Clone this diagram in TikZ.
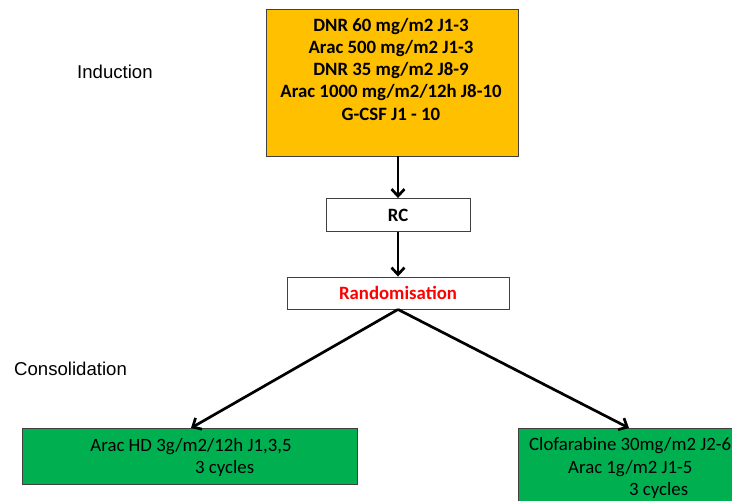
\documentclass[tikz,border=0pt]{standalone}
\usepackage{fontspec}
\setmainfont{Carlito}
\newfontfamily\arialf{Liberation Sans}
\usetikzlibrary{arrows.meta}
\definecolor{orangebox}{HTML}{FFC000}
\definecolor{greenbox}{HTML}{00B050}
\definecolor{redtext}{HTML}{FF0000}
\begin{document}
\begin{tikzpicture}[x=1pt,y=-1pt,
  boxline/.style={draw=black!75, line width=0.9pt},
  flowarrow/.style={line width=2.7pt, -{Straight Barb[length=7pt,width=13pt,line width=2.7pt]}},
  txt/.style={inner sep=0pt, font=\fontsize{18.8}{22}\selectfont},
  btxt/.style={inner sep=0pt, font=\fontsize{18.8}{22}\selectfont\bfseries},
  lbl/.style={inner sep=0pt, font=\arialf\fontsize{18.6}{20}\selectfont, anchor=base west}
]
\useasboundingbox (0,0) rectangle (732,501);
\fill[white] (0,0) rectangle (732,501);

% top induction box
\node[boxline, fill=orangebox, minimum width=252pt, minimum height=147pt, inner sep=0pt] (ind) at (392,82.5) {};
\node[btxt, anchor=base] (l1) at (391,31) {DNR 60 mg/m2 J1-3};
\node[btxt, anchor=base] (l2) at (391,53.3) {Arac 500 mg/m2 J1-3};
\node[btxt, anchor=base] (l3) at (391,75.6) {DNR 35 mg/m2 J8-9};
\node[btxt, anchor=base] (l4) at (391,97.9) {Arac 1000 mg/m2/12h J8-10};
\node[btxt, anchor=base] (l5) at (391,120.2) {G-CSF J1 - 10};

% RC
\node[boxline, fill=white, minimum width=144pt, minimum height=33pt, inner sep=0pt] (rc) at (398,215) {};
\node[btxt, anchor=base] (rct) at (398,221.5) {RC};

% Randomisation
\node[boxline, fill=white, minimum width=222pt, minimum height=32pt, inner sep=0pt] (rand) at (398,293) {};
\node[btxt, anchor=base, text=redtext] (randt) at (398,299.5) {Randomisation};

% left green box
\node[boxline, fill=greenbox, minimum width=335pt, minimum height=56pt, inner sep=0pt] (left) at (189.5,456) {};
\node[txt, anchor=base] (a1) at (191,451) {Arac HD 3g/m2/12h J1,3,5};
\node[txt, anchor=base west] (a2) at (195,473) {3 cycles};

% right green box
\node[boxline, fill=greenbox, minimum width=222pt, minimum height=80pt, inner sep=0pt, anchor=north west] (right) at (518,428) {};
\node[txt, anchor=base west] (b1) at (529,450) {Clofarabine 30mg/m2 J2-6};
\node[txt, anchor=base west] (b2) at (568,473) {Arac 1g/m2 J1-5};
\node[txt, anchor=base west] (b3) at (629,495.5) {3 cycles};

% labels
\node[lbl] (induction) at (77,78) {Induction};
\node[lbl] (consol) at (14,375) {Consolidation};

% arrows
\coordinate (lend) at (191,428);
\coordinate (rend) at (629,428);
\draw[flowarrow] (ind.south -| rc.north) -- (rc.north);
\draw[flowarrow] (rc.south) -- (rand.north);
\draw[flowarrow] (rand.south) -- (lend);
\draw[flowarrow] (rand.south) -- (rend);
\end{tikzpicture}
\end{document}
